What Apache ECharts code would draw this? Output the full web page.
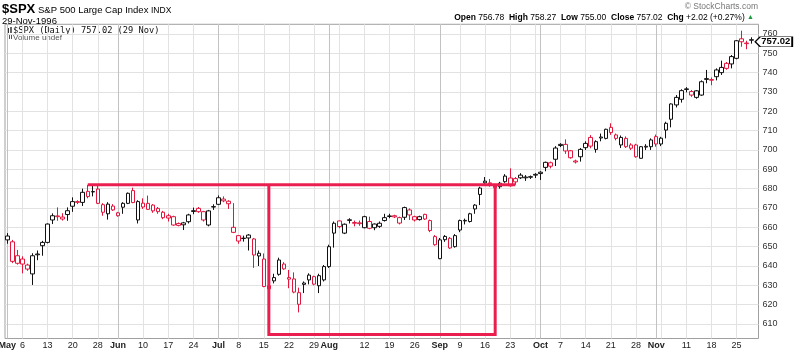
<!DOCTYPE html>
<html>
<head>
<meta charset="utf-8">
<title>$SPX S&amp;P 500 Large Cap Index</title>
<script src="https://cdn.jsdelivr.net/npm/echarts@6/dist/echarts.min.js"></script>
<style>
  html, body { margin: 0; padding: 0; background: #fff; }
  #chart { width: 800px; height: 352px; }
</style>
</head>
<body>
<div id="chart"></div>
<script>
// daily bars, May - Nov 1996
const dates = [
  '1996-05-01','1996-05-02','1996-05-03','1996-05-06','1996-05-07','1996-05-08','1996-05-09','1996-05-10',
  '1996-05-13','1996-05-14','1996-05-15','1996-05-16','1996-05-17','1996-05-20','1996-05-21','1996-05-22',
  '1996-05-23','1996-05-24','1996-05-28','1996-05-29','1996-05-30','1996-05-31',
  '1996-06-03','1996-06-04','1996-06-05','1996-06-06','1996-06-07','1996-06-10','1996-06-11','1996-06-12',
  '1996-06-13','1996-06-14','1996-06-17','1996-06-18','1996-06-19','1996-06-20','1996-06-21','1996-06-24',
  '1996-06-25','1996-06-26','1996-06-27','1996-06-28',
  '1996-07-01','1996-07-02','1996-07-03','1996-07-05','1996-07-08','1996-07-09','1996-07-10','1996-07-11',
  '1996-07-12','1996-07-15','1996-07-16','1996-07-17','1996-07-18','1996-07-19','1996-07-22','1996-07-23',
  '1996-07-24','1996-07-25','1996-07-26','1996-07-29','1996-07-30','1996-07-31',
  '1996-08-01','1996-08-02','1996-08-05','1996-08-06','1996-08-07','1996-08-08','1996-08-09','1996-08-12',
  '1996-08-13','1996-08-14','1996-08-15','1996-08-16','1996-08-19','1996-08-20','1996-08-21','1996-08-22',
  '1996-08-23','1996-08-26','1996-08-27','1996-08-28','1996-08-29','1996-08-30',
  '1996-09-03','1996-09-04','1996-09-05','1996-09-06','1996-09-09','1996-09-10','1996-09-11','1996-09-12',
  '1996-09-13','1996-09-16','1996-09-17','1996-09-18','1996-09-19','1996-09-20','1996-09-23','1996-09-24',
  '1996-09-25','1996-09-26','1996-09-27','1996-09-30',
  '1996-10-01','1996-10-02','1996-10-03','1996-10-04','1996-10-07','1996-10-08','1996-10-09','1996-10-10',
  '1996-10-11','1996-10-14','1996-10-15','1996-10-16','1996-10-17','1996-10-18','1996-10-21','1996-10-22',
  '1996-10-23','1996-10-24','1996-10-25','1996-10-28','1996-10-29','1996-10-30','1996-10-31',
  '1996-11-01','1996-11-04','1996-11-05','1996-11-06','1996-11-07','1996-11-08','1996-11-11','1996-11-12',
  '1996-11-13','1996-11-14','1996-11-15','1996-11-18','1996-11-19','1996-11-20','1996-11-21','1996-11-22',
  '1996-11-25','1996-11-26','1996-11-27','1996-11-29'
];
const opens = [
  653.5,652.5,645.3,643.6,640.5,635.9,645.8,650.5,652.2,663.8,665.9,664.3,666.6,670.9,673.3,672.9,
  678.6,678.3,679.8,671.7,667,671,
  666,670.4,672.4,679,663.8,672.5,672.4,671.5,669.8,667.8,666,665.5,662,662.3,662.9,668.2,
  669.8,668.1,661.2,670.5,
  671.9,674.6,673.5,660,655.7,654.2,654.5,654,645.2,643.6,629.8,632.3,635.7,641,634,633.3,
  620.2,630.5,632.8,634.5,629.8,632.8,
  639.7,657,663.3,657,663.6,662.5,662.3,659.8,663,659.8,660.5,663.5,665.6,666,662.2,665.2,
  669,665.5,664,666.7,663.5,655.2,
  643.8,653.6,654.3,650,658.6,663.3,663,669.5,677,683,682.5,680.5,681,683.6,681.5,683.5,
  687,685.6,685.9,687,
  687.8,691,693.4,695.2,702.3,702.9,699.6,694.3,696.5,701.2,706.5,700.3,706.2,706,711.7,707.8,
  702.6,706,702.6,702.6,695.7,701.5,701.7,
  706.9,703.1,710.3,715.9,723.3,726.2,731.3,730.2,727.2,728.4,736.5,736.4,737.9,740,744.8,744.5,
  747.4,757.5,755.3,756.78
];
const highs = [
  657,653.5,648.3,645,641.2,646.6,648,653,662,667.2,670.3,667.3,670.3,675.5,674,680,
  682,681.5,681.5,672.5,673,672,
  668,673,678,680.5,674,675,676.4,672,670.5,668.5,667,666,662.5,662.8,667,670.2,
  670.5,668.5,669,671.9,
  676.5,676,674,672.5,656,655.7,656.5,654.5,648,646.5,630.5,636,644.3,642,638,636.7,
  628.8,632,636.2,635,636,640.5,
  651,663,663.5,662,664.7,663.5,663.5,666,665.5,662,663,667,667,666.5,665.5,670.7,
  669.8,666,666,667,664,656,
  654.5,656,655,656.5,664,664.5,667.5,672,681,686,685,682.5,683.5,687.5,690.5,686,
  688,687,686.8,688,
  689,694,694,702,703.5,705.5,700,695,701,704.5,707.7,705,708.5,711,713.8,708.5,
  707.5,707,703.5,703.2,702,703,706,
  708,706.8,714.6,724.1,728.4,731.4,732.5,731,731,736,741.4,737.5,742.2,746.2,745.5,749.1,
  756.8,761.7,756.5,758.27
];
const lows = [
  651.5,641.5,640.7,636.2,637.5,630.2,643,645.3,651.7,661.7,663.4,663.5,663.4,668,672,671,
  675,676,672,666,664,668.5,
  665.5,667,672,672.5,662,669.5,669,667.5,667,664.2,663,660.8,660.5,658.6,662,666.8,
  667.5,663,660.5,669,
  671.5,673,669.5,657,651.5,652.6,648,639,640,629,606,631,635,638,628.5,625.9,
  616,626,630.5,630,626,632,
  639,649.5,659.5,656.5,662,660.5,660.8,659.5,659,658.5,659.7,663,664.7,664.8,661.5,663.8,
  663.8,663,663.5,663.8,657.5,650.5,
  643.5,652.5,648.8,649.5,657.5,661.5,662.5,667,671.5,681.5,681,680,680,683,681,682,
  685,684,685,685.5,
  684.5,689,690.5,691.7,701.5,698,695.5,693,694,700,700.9,698.6,704.5,705.5,707.8,705,
  701,701,700,696,695.5,700,700,
  701.7,702,706,711.7,722,724.5,729.8,727.5,726.5,728,734.5,733.5,736,738.8,741.5,742.2,
  746.9,753.4,752.1,755
];
const closes = [
  655.5,642.4,641.4,641,638.4,645.3,646.2,652.2,661.7,666,665.5,665.3,668.6,673.3,672.9,678.1,
  675.9,678.5,672.4,667.8,672,669,
  667.5,672.4,677.6,672.8,673.3,670.5,669.3,668.5,668.1,665,664.8,661.2,661,661.3,666.4,668.6,
  668.1,663.8,668.5,670.7,
  675.3,673.7,672.2,657.4,652.9,654.4,656,645.7,646.6,629.4,628.2,634,643.1,638.5,633.2,626.5,
  626.2,631.2,635.3,630.6,635,639.7,
  650,662.1,660.4,661.6,663.9,662.1,661.9,665.5,659.5,661.7,662.1,665,665.9,665.4,665,670.2,
  666.4,663.8,665.5,664.3,658.3,651,
  653.5,655.3,649.3,655.7,663.5,663.6,667,671.5,680.3,683.9,683,681.5,682.8,686.5,685.5,685.2,
  685.6,686,686.2,687.4,
  688.5,693.6,691.6,701,702.9,699.5,696,693.8,700.3,703.4,702,704.3,706.7,710.7,709,706,
  706.5,701.7,700.9,696.5,701.7,701.9,705.2,
  703.1,706.1,713.8,723.8,727.2,730.7,731.6,728.4,730.6,735.3,736.9,736.1,741.4,742.7,742.2,748.3,
  756.5,755.96,755,757.02
];

// date axis labels
const tickDates = [
  '1996-05-01','1996-05-06','1996-05-13','1996-05-20','1996-05-28',
  '1996-06-03','1996-06-10','1996-06-17','1996-06-24',
  '1996-07-01','1996-07-08','1996-07-15','1996-07-22','1996-07-29',
  '1996-08-01','1996-08-12','1996-08-19','1996-08-26',
  '1996-09-03','1996-09-09','1996-09-16','1996-09-23',
  '1996-10-01','1996-10-07','1996-10-14','1996-10-21','1996-10-28',
  '1996-11-01','1996-11-11','1996-11-18','1996-11-25'
];
const tickLabels = [
  'May','6','13','20','28',
  'Jun','10','17','24',
  'Jul','8','15','22','29',
  'Aug','12','19','26',
  'Sep','9','16','23',
  'Oct','7','14','21','28',
  'Nov','11','18','25'
];
const monthNames = ['May','Jun','Jul','Aug','Sep','Oct','Nov'];

// hand drawn lines on the chart
const necklineDates = ['1996-05-23', '1996-09-24'];
const necklineValue = 682;
const boxDates = ['1996-07-16', '1996-09-18'];
const boxLow = 604.6;

const RED = '#e3173e';
const LINE_RED = '#ea1f4f';
const BLACK = '#111';
const FONT = '"Liberation Sans", Arial, sans-serif';

const n = dates.length;
const last = n - 1;
const lastClose = closes[last];

// hollow when close > open, red when close < previous close
const candles = dates.map((d, i) => {
  const prev = i > 0 ? closes[i - 1] : opens[i];
  const c = closes[i] >= prev ? BLACK : RED;
  return {
    value: [opens[i], closes[i], lows[i], highs[i]],
    itemStyle: { color: '#fff', color0: c, borderColor: c, borderColor0: c, borderColorDoji: c }
  };
});

const day = s => new Date(s + 'T00:00:00Z');
const weekStart = dates.map((d, i) => i > 0 && day(d).getUTCDay() < day(dates[i - 1]).getUTCDay());
const monthStart = dates.map((d, i) => i === 0 || day(d).getUTCMonth() !== day(dates[i - 1]).getUTCMonth());

const chg = closes[last] - closes[last - 1];
const chgPct = chg / closes[last - 1] * 100;
const shortDate = d => {
  const m = ['Jan','Feb','Mar','Apr','May','Jun','Jul','Aug','Sep','Oct','Nov','Dec'];
  const t = day(d);
  return { dd: t.getUTCDate(), mon: m[t.getUTCMonth()], yy: t.getUTCFullYear() };
};
const ld = shortDate(dates[last]);

const chart = echarts.init(document.getElementById('chart'));
chart.setOption({
  animation: false,
  backgroundColor: '#fff',
  textStyle: { fontFamily: FONT },
  grid: [
    // frame + price gridlines
    { left: 5, right: 41.5, top: 24.3, bottom: 13.5, show: true, borderColor: '#a0a0a0', borderWidth: 1,
      backgroundColor: '#fff', outerBoundsMode: 'none', containLabel: false },
    // bars
    { left: 7.3, right: 48.3, top: 24.3, bottom: 13.5, outerBoundsMode: 'none', containLabel: false }
  ],
  xAxis: [
    { gridIndex: 0, type: 'value', min: 0, max: 1, show: false },
    {
      gridIndex: 1, type: 'category', data: dates, boundaryGap: false,
      axisLine: { show: false }, axisTick: { show: false },
      axisLabel: {
        interval: (idx, val) => tickDates.includes(val),
        formatter: val => {
          const t = tickLabels[tickDates.indexOf(val)];
          return monthNames.includes(t) ? '{m|' + t + '}' : '{d|' + t + '}';
        },
        margin: 3,
        rich: {
          m: { fontFamily: FONT, fontSize: 9, fontWeight: 'bold', color: '#222' },
          d: { fontFamily: FONT, fontSize: 9, color: '#222' }
        }
      },
      splitLine: { show: true, interval: idx => weekStart[idx], lineStyle: { color: '#e2e2e2', width: 1 } }
    },
    {
      gridIndex: 1, type: 'category', data: dates, boundaryGap: false,
      axisLine: { show: false }, axisTick: { show: false }, axisLabel: { show: false },
      splitLine: { show: true, interval: idx => monthStart[idx], lineStyle: { color: '#c2c2c2', width: 1 } }
    }
  ],
  yAxis: [
    {
      gridIndex: 0, type: 'value', position: 'right', min: 602.5, max: 765, interval: 2.5,
      axisLine: { show: false }, axisTick: { show: false },
      axisLabel: { margin: 4, fontSize: 9, color: '#333', formatter: v => (v % 10 === 0 ? String(v) : '') },
      splitLine: { show: true, lineStyle: { color: ['transparent', 'transparent', 'transparent', '#e2e2e2'], width: 1 } }
    },
    { gridIndex: 1, type: 'value', min: 602.5, max: 765, show: false }
  ],
  series: [
    {
      name: '$SPX', type: 'candlestick', xAxisIndex: 1, yAxisIndex: 1,
      data: candles, barWidth: 4, clip: false,
      itemStyle: { borderWidth: 1 },
      markPoint: {
        symbol: 'path://M0,6 L6,0 L44,0 L44,12 L6,12 Z',
        symbolSize: [37, 10], symbolKeepAspect: false, symbolOffset: [22, 2],
        itemStyle: { color: '#fff', borderColor: '#000', borderWidth: 1 },
        label: { show: true, position: 'inside', offset: [2, 0], formatter: lastClose.toFixed(2),
          fontFamily: FONT, fontSize: 9.5, fontWeight: 'bold', color: '#000' },
        data: [{ coord: [dates[last], lastClose] }]
      }
    },
    {
      name: 'neckline', type: 'line', xAxisIndex: 1, yAxisIndex: 1, z: 5,
      symbol: 'none', silent: true,
      lineStyle: { color: LINE_RED, width: 3 },
      data: [[necklineDates[0], necklineValue], [necklineDates[1], necklineValue]]
    },
    {
      name: 'box', type: 'line', xAxisIndex: 1, yAxisIndex: 1, z: 5,
      symbol: 'none', silent: true,
      lineStyle: { color: LINE_RED, width: 3, join: 'miter' },
      data: [[boxDates[0], necklineValue], [boxDates[0], boxLow], [boxDates[1], boxLow], [boxDates[1], necklineValue]]
    }
  ],
  graphic: [
    { type: 'text', left: 2, top: 3, style: { text: '$SPX', fontFamily: FONT, fontSize: 13, fontWeight: 'bold', fill: '#000' } },
    { type: 'text', left: 38, top: 5, style: { text: 'S&P 500 Large Cap Index', fontFamily: FONT, fontSize: 9.5, fill: '#000' } },
    { type: 'text', left: 151, top: 6, style: { text: 'INDX', fontFamily: FONT, fontSize: 8.5, fill: '#000' } },
    { type: 'text', left: 2, top: 16, style: { text: ld.dd + '-' + ld.mon + '-' + ld.yy, fontFamily: FONT, fontSize: 9.5, fill: '#000' } },
    { type: 'text', right: 42, top: 2, style: { text: '© StockCharts.com', fontFamily: FONT, fontSize: 8.5, fill: '#777' } },
    {
      type: 'text', right: 46, top: 13,
      style: {
        text: '{b|Open} {n|' + opens[last].toFixed(2) + '}  {b|High} {n|' + highs[last].toFixed(2) +
          '}  {b|Low} {n|' + lows[last].toFixed(2) + '}  {b|Close} {n|' + closes[last].toFixed(2) +
          '}  {b|Chg} {n|+' + chg.toFixed(2) + ' (+' + chgPct.toFixed(2) + '%)} {g|▲}',
        fontFamily: FONT, fontSize: 8.5, fill: '#000',
        rich: {
          b: { fontFamily: FONT, fontSize: 8.5, fontWeight: 'bold', fill: '#000' },
          n: { fontFamily: FONT, fontSize: 8.5, fill: '#000' },
          g: { fontFamily: FONT, fontSize: 7, fill: '#1a9a3a' }
        }
      }
    },
    // series legend inside the plot
    { type: 'rect', left: 7, top: 28, shape: { width: 2, height: 5 }, style: { fill: '#333' } },
    { type: 'rect', left: 10, top: 27, shape: { width: 2, height: 6 }, style: { fill: '#666' } },
    { type: 'text', left: 13, top: 26.5, style: { text: '$SPX (Daily) ' + lastClose.toFixed(2) + ' (' + ld.dd + ' ' + ld.mon + ')',
      fontFamily: '"DejaVu Sans Mono", monospace', fontSize: 8.7, fill: '#111' } },
    { type: 'rect', left: 7, top: 36, shape: { width: 1, height: 3 }, style: { fill: '#555' } },
    { type: 'rect', left: 9, top: 34, shape: { width: 1, height: 5 }, style: { fill: '#555' } },
    { type: 'rect', left: 11, top: 35, shape: { width: 1, height: 4 }, style: { fill: '#555' } },
    { type: 'text', left: 13, top: 33.5, style: { text: 'Volume undef', fontFamily: FONT, fontSize: 8, fill: '#555' } }
  ]
});
</script>
</body>
</html>
